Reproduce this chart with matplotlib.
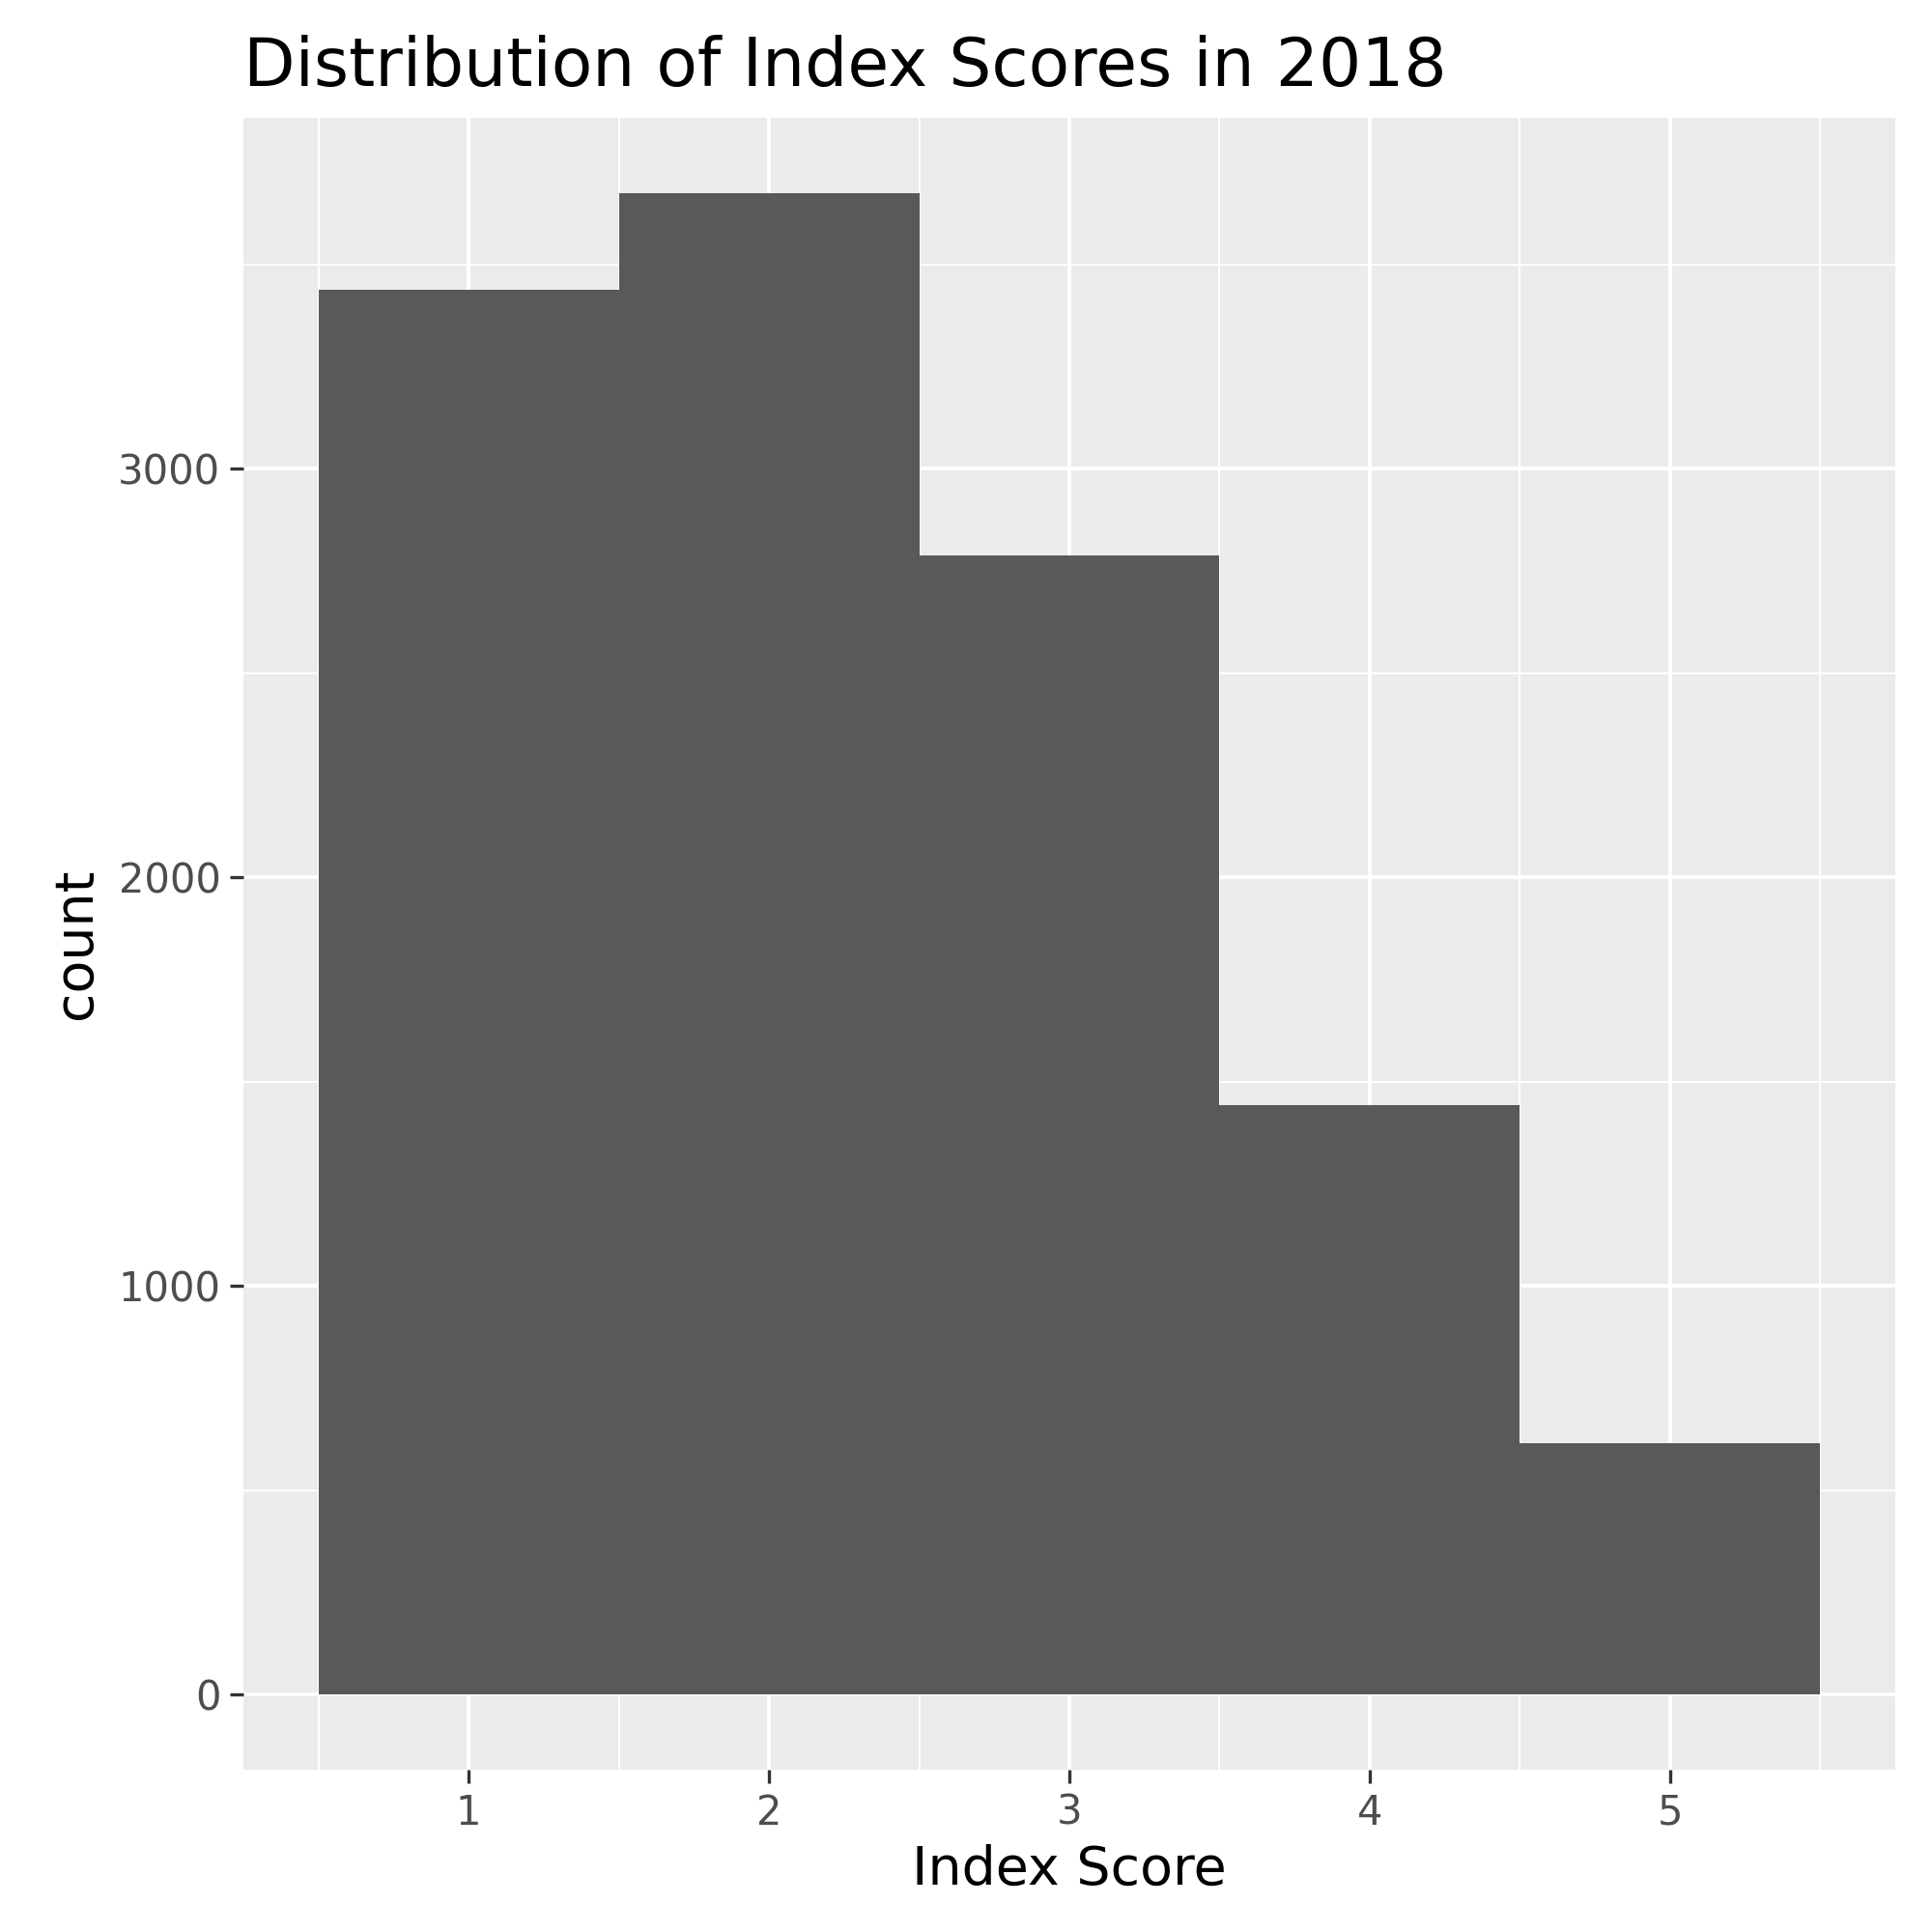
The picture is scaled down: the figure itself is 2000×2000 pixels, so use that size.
import matplotlib
matplotlib.use("Agg")
import matplotlib.pyplot as plt

# data
scores = [1, 2, 3, 4, 5]
counts = [3437, 3675, 2789, 1443, 614]
y_ticks = [0, 1000, 2000, 3000]
y_minor = [500, 1500, 2500, 3500]

fig = plt.figure(figsize=(10, 10), dpi=200)
ax = fig.add_axes([0.126, 0.084, 0.855, 0.855])
ax.set_facecolor("#EBEBEB")

ax.bar(scores, counts, width=1.0, color="#595959", zorder=3)

ax.set_xlim(0.25, 5.75)
ax.set_ylim(-184, 3859)
ax.set_xticks(scores)
ax.set_xticks([s + 0.5 for s in [0] + scores], minor=True)
ax.set_yticks(y_ticks)
ax.set_yticks(y_minor, minor=True)

ax.grid(which="major", color="white", linewidth=1.4, zorder=0)
ax.grid(which="minor", color="white", linewidth=0.7, zorder=0)
for s in ax.spines.values():
    s.set_visible(False)
ax.tick_params(which="major", length=5, width=1.2, color="#333333",
               labelsize=15, labelcolor="#4D4D4D")
ax.tick_params(which="minor", length=0)

ax.set_xlabel("Index Score", fontsize=20, labelpad=4)
ax.set_ylabel("count", fontsize=20, labelpad=6)
ax.set_title("Distribution of Index Scores in 2018", fontsize=25, loc="left",
             x=0.0, pad=12)

fig.savefig("out.png", dpi=200)
